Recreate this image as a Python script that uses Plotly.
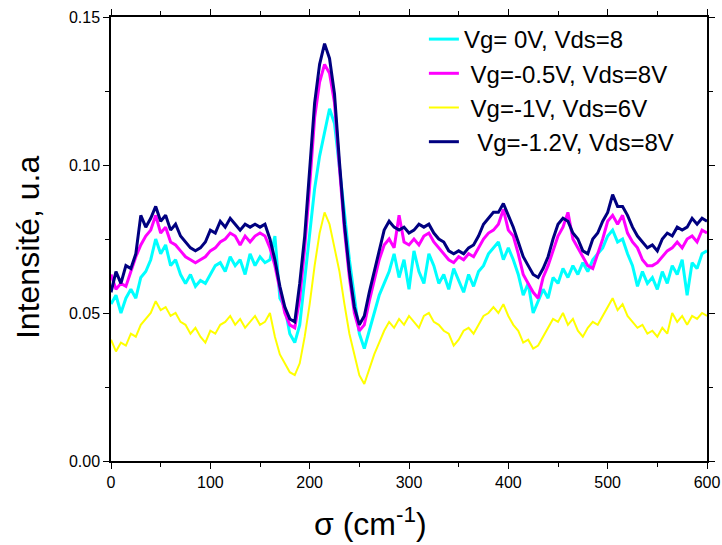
import plotly.graph_objects as go

sigma = list(range(0, 601, 5))

series_names = ["Vg= 0V, Vds=8", " Vg=-0.5V, Vds=8V", " Vg=-1V, Vds=6V", "  Vg=-1.2V, Vds=8V"]

cyan_vals = [
    0.053, 0.056, 0.050, 0.055, 0.058, 0.055, 0.062, 0.064, 0.068, 0.075,
    0.070, 0.073, 0.066, 0.068, 0.063, 0.060, 0.063, 0.059, 0.061, 0.060,
    0.063, 0.066, 0.067, 0.064, 0.069, 0.066, 0.068, 0.063, 0.070, 0.066,
    0.069, 0.067, 0.068, 0.076, 0.055, 0.052, 0.043, 0.040, 0.046, 0.062,
    0.078, 0.092, 0.103, 0.111, 0.119, 0.114, 0.100, 0.084, 0.068, 0.055,
    0.043, 0.038, 0.044, 0.050, 0.056, 0.060, 0.064, 0.070, 0.062, 0.068,
    0.058, 0.071, 0.064, 0.060, 0.070, 0.066, 0.060, 0.063, 0.058, 0.065,
    0.061, 0.057, 0.063, 0.059, 0.064, 0.066, 0.070, 0.072, 0.074, 0.068,
    0.072, 0.068, 0.063, 0.056, 0.060, 0.050, 0.054, 0.058, 0.055, 0.062,
    0.060, 0.065, 0.062, 0.066, 0.063, 0.067, 0.064, 0.068, 0.070, 0.072,
    0.076, 0.078, 0.074, 0.075, 0.070, 0.066, 0.059, 0.064, 0.060, 0.062,
    0.058, 0.064, 0.060, 0.066, 0.063, 0.068, 0.056, 0.067, 0.065, 0.070,
    0.071,
]

magenta_vals = [
    0.063, 0.058, 0.060, 0.059, 0.064, 0.069, 0.073, 0.076, 0.078, 0.083,
    0.077, 0.079, 0.074, 0.073, 0.071, 0.069, 0.068, 0.067, 0.068, 0.069,
    0.071, 0.072, 0.074, 0.075, 0.077, 0.076, 0.073, 0.076, 0.074, 0.076,
    0.077, 0.076, 0.072, 0.066, 0.058, 0.050, 0.046, 0.045, 0.055, 0.072,
    0.093, 0.116, 0.128, 0.134, 0.131, 0.121, 0.099, 0.078, 0.062, 0.050,
    0.044, 0.046, 0.054, 0.061, 0.068, 0.073, 0.075, 0.072, 0.083, 0.074,
    0.073, 0.075, 0.073, 0.076, 0.077, 0.074, 0.072, 0.070, 0.068, 0.067,
    0.069, 0.068, 0.070, 0.069, 0.072, 0.075, 0.077, 0.078, 0.080, 0.085,
    0.078, 0.076, 0.070, 0.063, 0.060, 0.057, 0.055, 0.062, 0.066, 0.071,
    0.076, 0.079, 0.084, 0.075, 0.072, 0.069, 0.066, 0.065, 0.070, 0.075,
    0.081, 0.083, 0.080, 0.083, 0.077, 0.074, 0.072, 0.068, 0.066, 0.066,
    0.067, 0.069, 0.071, 0.072, 0.074, 0.072, 0.075, 0.076, 0.074, 0.078,
    0.077,
]

yellow_vals = [
    0.041, 0.037, 0.040, 0.039, 0.043, 0.042, 0.046, 0.048, 0.050, 0.054,
    0.051, 0.052, 0.049, 0.050, 0.047, 0.046, 0.043, 0.045, 0.042, 0.040,
    0.044, 0.043, 0.046, 0.047, 0.049, 0.046, 0.048, 0.045, 0.047, 0.049,
    0.046, 0.047, 0.050, 0.042, 0.036, 0.033, 0.030, 0.029, 0.033, 0.042,
    0.053, 0.066, 0.077, 0.084, 0.080, 0.072, 0.064, 0.053, 0.043, 0.036,
    0.029, 0.026, 0.031, 0.036, 0.040, 0.044, 0.047, 0.045, 0.048, 0.046,
    0.049, 0.047, 0.045, 0.049, 0.050, 0.047, 0.046, 0.044, 0.043, 0.039,
    0.041, 0.044, 0.045, 0.043, 0.046, 0.049, 0.050, 0.052, 0.050, 0.053,
    0.049, 0.046, 0.044, 0.040, 0.041, 0.038, 0.039, 0.042, 0.045, 0.048,
    0.047, 0.050, 0.046, 0.048, 0.044, 0.042, 0.045, 0.047, 0.046, 0.049,
    0.052, 0.055, 0.051, 0.053, 0.049, 0.047, 0.045, 0.046, 0.043, 0.044,
    0.042, 0.045, 0.043, 0.050, 0.047, 0.049, 0.046, 0.049, 0.048, 0.050,
    0.049,
]

navy_vals = [
    0.057, 0.064, 0.060, 0.066, 0.065, 0.070, 0.083, 0.079, 0.082, 0.086,
    0.081, 0.083, 0.078, 0.080, 0.076, 0.074, 0.072, 0.071, 0.072, 0.074,
    0.078, 0.077, 0.081, 0.079, 0.082, 0.080, 0.078, 0.080, 0.079, 0.080,
    0.079, 0.080, 0.075, 0.068, 0.059, 0.052, 0.048, 0.047, 0.060, 0.076,
    0.098, 0.121, 0.134, 0.141, 0.136, 0.124, 0.101, 0.080, 0.064, 0.052,
    0.046, 0.049, 0.057, 0.064, 0.072, 0.078, 0.081, 0.079, 0.078, 0.079,
    0.077, 0.078, 0.080, 0.079, 0.080, 0.077, 0.075, 0.074, 0.071, 0.070,
    0.071, 0.070, 0.072, 0.073, 0.076, 0.080, 0.082, 0.084, 0.084, 0.087,
    0.083, 0.079, 0.074, 0.069, 0.066, 0.063, 0.062, 0.065, 0.069, 0.075,
    0.080, 0.082, 0.081, 0.077, 0.075, 0.071, 0.070, 0.075, 0.077, 0.081,
    0.084, 0.090, 0.086, 0.086, 0.083, 0.079, 0.076, 0.074, 0.072, 0.073,
    0.071, 0.075, 0.077, 0.076, 0.079, 0.078, 0.079, 0.082, 0.080, 0.082,
    0.081,
]

x_ticks = [0, 100, 200, 300, 400, 500, 600]
y_ticks = [0.00, 0.05, 0.10, 0.15]

x_title = "σ (cm<sup>-1</sup>)"
y_title = "Intensité, u.a"

colors = ["#00FFFF", "#FF00FF", "#FFFF00", "#000080"]
widths = [3, 3, 2, 3]
all_vals = [cyan_vals, magenta_vals, yellow_vals, navy_vals]

fig = go.Figure()
for i, (name, vals) in enumerate(zip(series_names, all_vals)):
    fig.add_trace(go.Scatter(
        x=sigma, y=vals, mode="lines", name=name,
        line=dict(color=colors[i], width=widths[i]),
        legendgroup=f"g{i}",
    ))

font_family = "Liberation Sans, Arial, sans-serif"

fig.update_layout(
    width=722, height=545,
    margin=dict(l=111, r=15, t=17, b=84),
    paper_bgcolor="white", plot_bgcolor="white",
    font=dict(family=font_family, color="black"),
    showlegend=True,
    legend=dict(
        x=0.525, y=1.0, xanchor="left", yanchor="top",
        bgcolor="rgba(0,0,0,0)", borderwidth=0,
        font=dict(size=24, family=font_family),
        tracegroupgap=0, itemwidth=30,
    ),
    xaxis=dict(
        range=[0, 600], tickvals=x_ticks, automargin=False,
        showgrid=False, zeroline=False,
        showline=True, linecolor="black", linewidth=1.5, mirror="ticks",
        ticks="outside", ticklen=6, tickwidth=1.2, tickcolor="black",
        tickfont=dict(size=16),
        minor=dict(ticks="outside", ticklen=4, dtick=50, tickcolor="black", tickwidth=1.2, showgrid=False),
    ),
    yaxis=dict(
        range=[0, 0.15], tickvals=y_ticks, tickformat=".2f", automargin=False,
        showgrid=False, zeroline=False,
        showline=True, linecolor="black", linewidth=1.5, mirror="ticks",
        ticks="outside", ticklen=6, tickwidth=1.2, tickcolor="black",
        tickfont=dict(size=16),
        minor=dict(ticks="outside", ticklen=4, dtick=0.025, tickcolor="black", tickwidth=1.2, showgrid=False),
    ),
    annotations=[
        dict(text=x_title, xref="paper", yref="paper", x=0.436, y=-0.137,
             xanchor="center", yanchor="middle", showarrow=False,
             font=dict(size=32, family=font_family)),
        dict(text=y_title, xref="paper", yref="paper", x=-0.139, y=0.48,
             xanchor="center", yanchor="middle", textangle=-90, showarrow=False,
             font=dict(size=32, family=font_family)),
    ],
)

# remove the browser's default 8px page margin so the 722x545 figure fills the window
fig.write_html(
    "out.html",
    config={"displayModeBar": False},
    post_script="document.body.style.margin='0';document.body.style.overflow='hidden';",
)
